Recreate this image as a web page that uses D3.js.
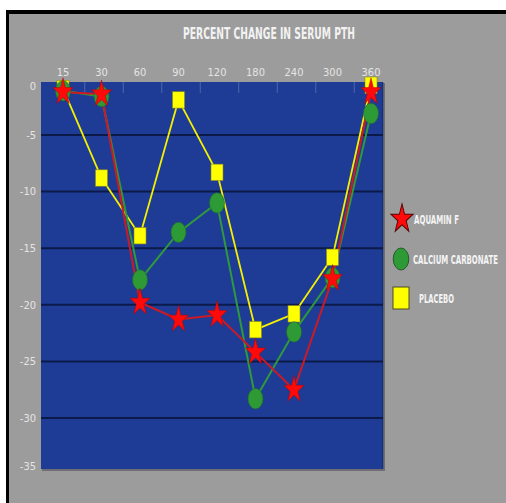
<!DOCTYPE html>
<html><head><meta charset="utf-8">
<script src="https://cdn.jsdelivr.net/npm/d3@7"></script>
<style>
html,body{margin:0;padding:0;background:#fff;}
svg{display:block;}
text{font-family:"Liberation Sans Narrow","DejaVu Sans Condensed","Roboto",sans-serif;}
</style></head>
<body>
<script>
const categories = ["15","30","60","90","120","180","240","300","360"];
const aquamin   = [-1.2, -1.4, -19.8, -21.3, -20.9, -24.2, -27.5, -17.7, -1.2];
const calcium   = [-1.1, -1.6, -17.8, -13.6, -11.0, -28.3, -22.4, -17.6, -3.1];
const placebo   = [-0.9, -8.8, -13.9, -1.9, -8.3, -22.2, -20.8, -15.8, -0.6];
const yTicks    = [0, -5, -10, -15, -20, -25, -30, -35];
const seriesNames = ["AQUAMIN F", "CALCIUM CARBONATE", "PLACEBO"];
const title = "PERCENT CHANGE IN SERUM PTH";

const W = 506, H = 503;
const svg = d3.select("body").append("svg").attr("width", W).attr("height", H);

// frame
svg.append("rect").attr("x",0).attr("y",0).attr("width",W).attr("height",H).attr("fill","#fff");
svg.append("rect").attr("x",6).attr("y",10).attr("width",W-6).attr("height",H-10).attr("fill","#000");
svg.append("rect").attr("x",9).attr("y",14).attr("width",W-9).attr("height",H-14).attr("fill","#9c9c9c");

const plot = {left:41, right:383, top:82, bottom:469};
const x = d3.scalePoint().domain(categories).range([63, 371]);
const y = d3.scaleLinear().domain([0, -35]).range([78.4, 474.6]);

// plot shadow + background
svg.append("rect").attr("x",plot.left+1).attr("y",plot.top+1)
  .attr("width",plot.right-plot.left+1).attr("height",plot.bottom-plot.top+1).attr("fill","#6e6e74");
svg.append("rect").attr("x",plot.left).attr("y",plot.top)
  .attr("width",plot.right-plot.left).attr("height",plot.bottom-plot.top).attr("fill","#1e3c96");
svg.append("line").attr("x1",plot.right-0.5).attr("x2",plot.right-0.5).attr("y1",plot.top).attr("y2",plot.bottom)
  .attr("stroke","#17307a").attr("stroke-width",1.5);

// gridlines
svg.append("g").selectAll("line").data(yTicks.filter(v => y(v) > plot.top+2 && y(v) < plot.bottom-2)).join("line")
  .attr("x1",plot.left).attr("x2",plot.right)
  .attr("y1",d=>y(d)).attr("y2",d=>y(d))
  .attr("stroke","#0b1a48").attr("stroke-width",2);

// top tick marks at category boundaries
const step = x.step();
svg.append("g").selectAll("line").data(categories.slice(1)).join("line")
  .attr("x1",d=>x(d)-step/2+2.5).attr("x2",d=>x(d)-step/2+2.5)
  .attr("y1",plot.top).attr("y2",plot.top+11)
  .attr("stroke","#4f66aa").attr("stroke-width",1);

// x axis labels (top)
svg.append("g").selectAll("text").data(categories).join("text")
  .attr("x",d=>x(d)).attr("y",76)
  .attr("text-anchor","middle").attr("font-size",11).attr("fill","#e4e4e4")
  .text(d=>d);

// y axis labels
svg.append("g").selectAll("text").data(yTicks).join("text")
  .attr("x",36).attr("y",d=>Math.min(Math.max(y(d), plot.top+4), plot.bottom-3))
  .attr("dy","0.35em")
  .attr("text-anchor","end").attr("font-size",11).attr("fill","#e4e4e4")
  .text(d=>d);

// title
svg.append("text").attr("x",269).attr("y",39).attr("text-anchor","middle")
  .attr("font-size",15).attr("font-weight","bold").attr("fill","#f2f2f2")
  .attr("textLength",172).attr("lengthAdjust","spacingAndGlyphs")
  .text(title);

// series
const starPath = d3.symbol(d3.symbolStar, 124)();
const lineGen = d3.line().x((d,i)=>x(categories[i])).y(d=>y(d));

const series = [
  {name: seriesNames[2], values: placebo, line:"#f4f000", lw:1.8, kind:"square"},
  {name: seriesNames[1], values: calcium, line:"#2f9a3c", lw:2, kind:"circle"},
  {name: seriesNames[0], values: aquamin, line:"#cc1a24", lw:2, kind:"star"}
];

function drawMarker(g, kind, cx, cy){
  if(kind === "star"){
    g.append("path").attr("d", starPath)
      .attr("transform", `translate(${cx},${cy}) scale(1,1.35)`)
      .attr("fill","#ff0a0a").attr("stroke","#b00000").attr("stroke-width",0.4);
  } else if(kind === "circle"){
    g.append("ellipse").attr("cx",cx).attr("cy",cy).attr("rx",7.5).attr("ry",10.2)
      .attr("fill","#2e9a36").attr("stroke","#1f6a26").attr("stroke-width",0.6);
  } else {
    g.append("rect").attr("x",cx-6).attr("y",cy-8.2)
      .attr("width",12).attr("height",16.4)
      .attr("fill","#ffff00").attr("stroke","#8a8a20").attr("stroke-width",0.6);
  }
}

const gSeries = svg.append("g");
series.forEach(s => {
  gSeries.append("path").datum(s.values).attr("d", lineGen)
    .attr("fill","none").attr("stroke", s.line).attr("stroke-width", s.lw);
});
series.forEach(s => {
  const g = gSeries.append("g");
  s.values.forEach((v,i) => drawMarker(g, s.kind, x(categories[i]), y(v)));
});

// legend
const legend = svg.append("g");
const legendItems = [
  {name: seriesNames[0], kind:"star", mx:402, my:219, tx:414, tw:45},
  {name: seriesNames[1], kind:"circle", mx:401, my:259, tx:413, tw:85},
  {name: seriesNames[2], kind:"square", mx:401, my:298, tx:419, tw:35}
];
legendItems.forEach(it => {
  const g = legend.append("g");
  if(it.kind === "star"){
    g.append("path").attr("d", starPath)
      .attr("transform", `translate(${it.mx},${it.my}) scale(1.1,1.45)`)
      .attr("fill","#ff0a0a").attr("stroke","#5a0000").attr("stroke-width",0.8);
  } else if(it.kind === "circle"){
    g.append("ellipse").attr("cx",it.mx).attr("cy",it.my).attr("rx",7.8).attr("ry",11)
      .attr("fill","#2e9a36").attr("stroke","#1a4a1e").attr("stroke-width",0.8);
  } else {
    g.append("rect").attr("x",it.mx-8).attr("y",it.my-11).attr("width",16).attr("height",22)
      .attr("fill","#ffff00").attr("stroke","#4a4a20").attr("stroke-width",1);
  }
  const t = g.append("text").attr("x",0).attr("y",0)
    .attr("font-size",12).attr("font-weight","bold").attr("fill","#f4f4f4")
    .text(it.name);
  const nat = t.node().getComputedTextLength() || it.tw;
  const sx = Math.min(1, it.tw / nat);
  t.attr("transform", `translate(${it.tx},${it.my+4.5}) scale(${sx},1)`);
});
</script>
</body></html>
